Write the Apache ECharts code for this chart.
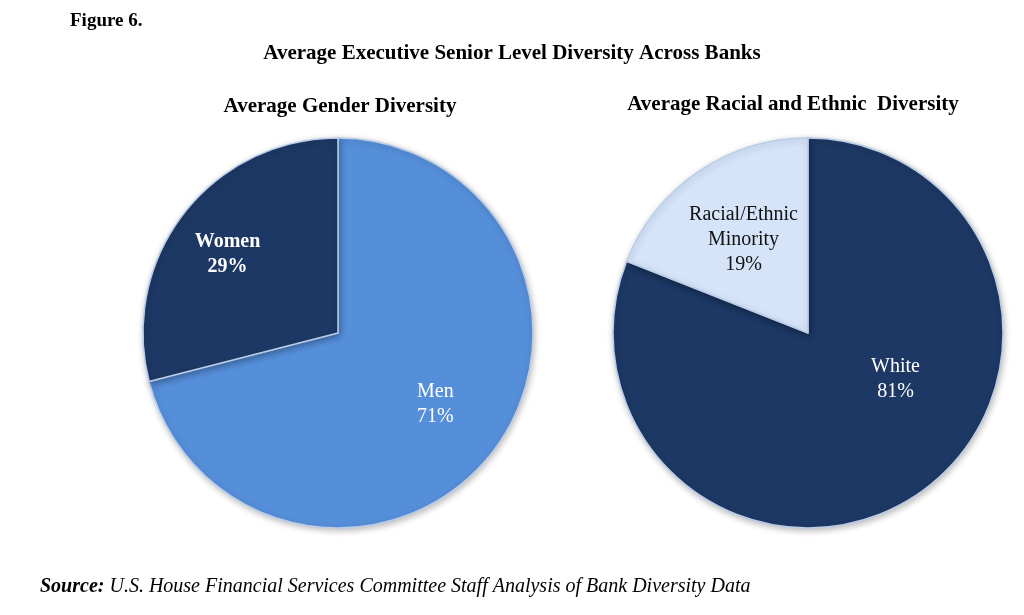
<!DOCTYPE html>
<html>
<head>
<meta charset="utf-8">
<script src="https://cdn.jsdelivr.net/npm/echarts@6/dist/echarts.min.js"></script>
<style>
  html, body { margin: 0; padding: 0; background: #fff; }
  #main { width: 1024px; height: 615px; }
</style>
</head>
<body>
<div id="main"></div>
<script>
// values (percent)
var genderNames = ['Men', 'Women'];
var genderValues = [71, 29];
var raceNames = ['White', 'Racial/Ethnic\nMinority'];
var raceValues = [81, 19];

var serif = '"Liberation Serif", "DejaVu Serif", serif';
var navy = '#1d3864';

function slice(name, value, color, textColor, bold, offset) {
    return {
        name: name,
        value: value,
        itemStyle: { color: color },
        label: {
            color: textColor,
            fontWeight: bold ? 'bold' : 'normal',
            offset: offset
        }
    };
}

function pieSeries(center, data) {
    return {
        type: 'pie',
        center: center,
        radius: 195,
        startAngle: 90,
        clockwise: true,
        silent: true,
        animation: false,
        label: {
            show: true,
            position: 'inside',
            formatter: '{b}\n{c}%',
            fontFamily: serif,
            fontSize: 20,
            lineHeight: 25
        },
        labelLine: { show: false },
        itemStyle: {
            borderColor: '#b9cde8',
            borderWidth: 1.5,
            shadowBlur: 6,
            shadowColor: 'rgba(0,0,0,0.25)',
            shadowOffsetX: 1,
            shadowOffsetY: 2
        },
        data: data
    };
}

function heading(text, left, top, size, align) {
    return {
        text: text, left: left, top: top, textAlign: align,
        textStyle: { fontFamily: serif, fontSize: size, fontWeight: 'bold', color: '#000' }
    };
}

var chart = echarts.init(document.getElementById('main'));
chart.setOption({
    backgroundColor: '#fff',
    title: [
        heading('Figure 6.', 65, 7, 19),
        heading('Average Executive Senior Level Diversity Across Banks', 'center', 38, 21),
        heading('Average Gender Diversity', 335, 91, 21, 'center'),
        heading('Average Racial and Ethnic  Diversity', 788, 89, 21, 'center'),
        { text: '{b|Source:} {n|U.S. House Financial Services Committee Staff Analysis of Bank Diversity Data}',
          left: 35, top: 570,
          textStyle: {
              fontFamily: serif, fontSize: 20, fontStyle: 'italic', fontWeight: 'normal', color: '#000',
              rich: {
                  b: { fontFamily: serif, fontSize: 20, lineHeight: 24, fontStyle: 'italic', fontWeight: 'bold', color: '#000' },
                  n: { fontFamily: serif, fontSize: 20, lineHeight: 24, fontStyle: 'italic', fontWeight: 'normal', color: '#000' }
              }
          } }
    ],
    series: [
        pieSeries([338, 333], [
            slice(genderNames[0], genderValues[0], '#558ed9', '#fff', false, [18, 10]),
            slice(genderNames[1], genderValues[1], navy, '#fff', true, [-31, -17])
        ]),
        pieSeries([808, 333], [
            slice(raceNames[0], raceValues[0], navy, '#fff', false, [31, -37]),
            slice(raceNames[1], raceValues[1], '#d6e4fa', '#111', false, [-8, -10])
        ])
    ]
});
</script>
</body>
</html>
